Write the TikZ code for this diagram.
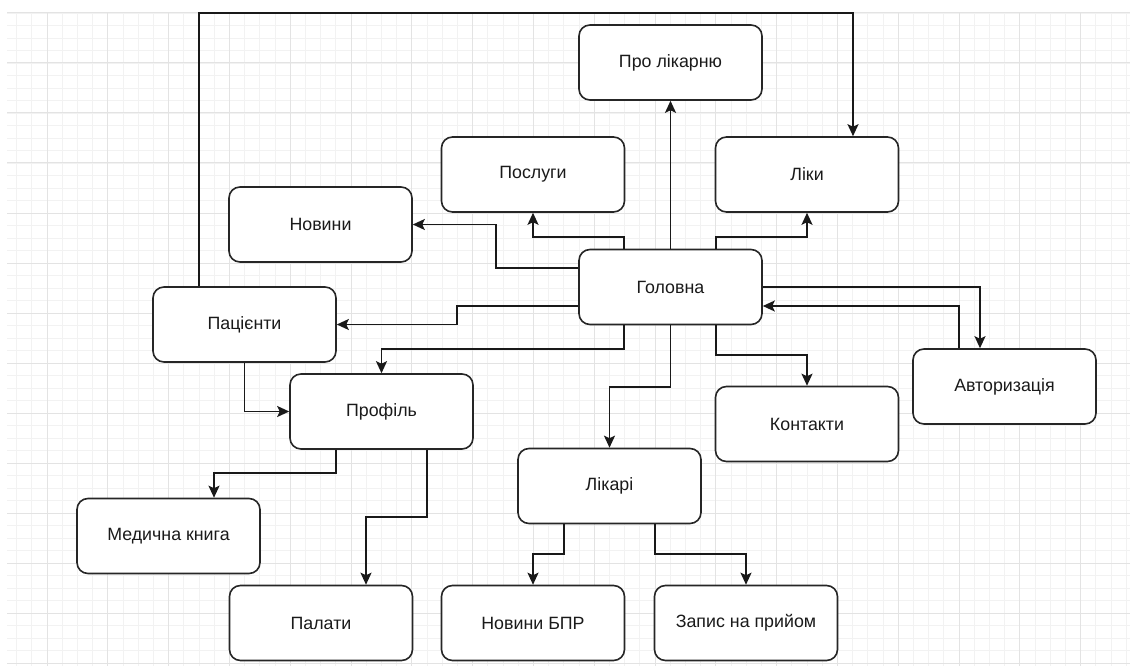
\documentclass[tikz,border=0pt]{standalone}
\usepackage{fontspec}
\setmainfont{Liberation Sans}
\usetikzlibrary{arrows.meta}
\definecolor{minorg}{HTML}{F2F2F2}
\definecolor{majorg}{HTML}{E3E3E3}
\definecolor{boxline}{HTML}{262626}
\definecolor{txt}{HTML}{1A1A1A}
\tikzset{
  box/.style={draw=boxline, line width=1.6pt, rounded corners=11pt, fill=white,
    minimum width=183pt, minimum height=75pt, inner sep=0pt,
    font=\fontsize{17.8}{21}\selectfont, text=txt},
  arr/.style={draw=black!90, line width=1.6pt, -{Stealth[length=12pt,width=11pt,inset=2.5pt]}},
  minorgrid/.style={draw=minorg, line width=0.9pt},
  majorgrid/.style={draw=majorg, line width=1pt}
}
\begin{document}
\begin{tikzpicture}[x=1pt,y=-1pt]
\useasboundingbox (0,0) rectangle (1130,666);
\fill[white] (0,0) rectangle (1130,666);
% grid
\foreach \k in {0,...,73} \draw[minorgrid] ({16.6+15.2*\k},13) -- ({16.6+15.2*\k},666);
\foreach \k in {0,...,52} \draw[minorgrid] (7,{13+12.5*\k}) -- (1130,{13+12.5*\k});
\foreach \k in {0,...,17} \draw[majorgrid] ({47+60.8*\k},13) -- ({47+60.8*\k},666);
\foreach \k in {0,...,13} \draw[majorgrid] (7,{13+50*\k}) -- (1130,{13+50*\k});
% nodes
\node[box] (pro)   at (670.5,62.5) {Про лікарню};
\node[box] (liky)  at (807,174.5)  {Ліки};
\node[box] (posl)  at (533,174.5)  {Послуги};
\node[box] (nov)   at (320.5,224.5) {Новини};
\node[box] (gol)   at (670.5,287)  {Головна};
\node[box] (pac)   at (244.5,324.5) {Пацієнти};
\node[box] (prof)  at (381.5,411.5) {Профіль};
\node[box] (avt)   at (1004.5,386.5) {Авторизація};
\node[box] (kont)  at (807,424)    {Контакти};
\node[box] (likar) at (609.5,486)  {Лікарі};
\node[box] (bpr)   at (533,623)    {Новини БПР};
\node[box] (zap)   at (746,623)    {Запис на прийом};
\node[box] (med)   at (168.5,536)  {Медична книга};
\node[box] (pal)   at (321,623)    {Палати};
% connectors
\draw[arr] (gol.north) -- (pro.south);
\draw[arr] ([xshift=-46.5pt]gol.north) -- (624,237) -| (posl.south);
\draw[arr] ([yshift=19pt]gol.west) -- (496,268) |- (nov.east);
\draw[arr] ([xshift=45.5pt]gol.north) -- (716,237) -| (liky.south);
\draw[arr] ([yshift=-19pt]gol.west) -- (457,306) |- (pac.east);
\draw[arr] ([xshift=-46.5pt]gol.south) -- (624,349) -| (prof.north);
\draw[arr] (gol.south) -- (670.5,387) -| (likar.north);
\draw[arr] ([xshift=45.5pt]gol.south) -- (716,355) -| (kont.north);
\draw[arr] (gol.east) -| ([xshift=-24.5pt]avt.north);
\draw[arr] ([xshift=-45.5pt]avt.north) |- ([yshift=-19pt]gol.east);
\draw[arr] ([xshift=-45.5pt]pac.north) -- (199,13) -| ([xshift=46pt]liky.north);
\draw[arr] (pac.south) |- (prof.west);
\draw[arr] ([xshift=-45.5pt]prof.south) -- (336,473) -| ([xshift=45.5pt]med.north);
\draw[arr] ([xshift=45.5pt]prof.south) -- (427,517) -| ([xshift=45pt]pal.north);
\draw[arr] ([xshift=-45.5pt]likar.south) -- (564,554) -| (bpr.north);
\draw[arr] ([xshift=45.5pt]likar.south) -- (655,554) -| (zap.north);
\end{tikzpicture}
\end{document}
